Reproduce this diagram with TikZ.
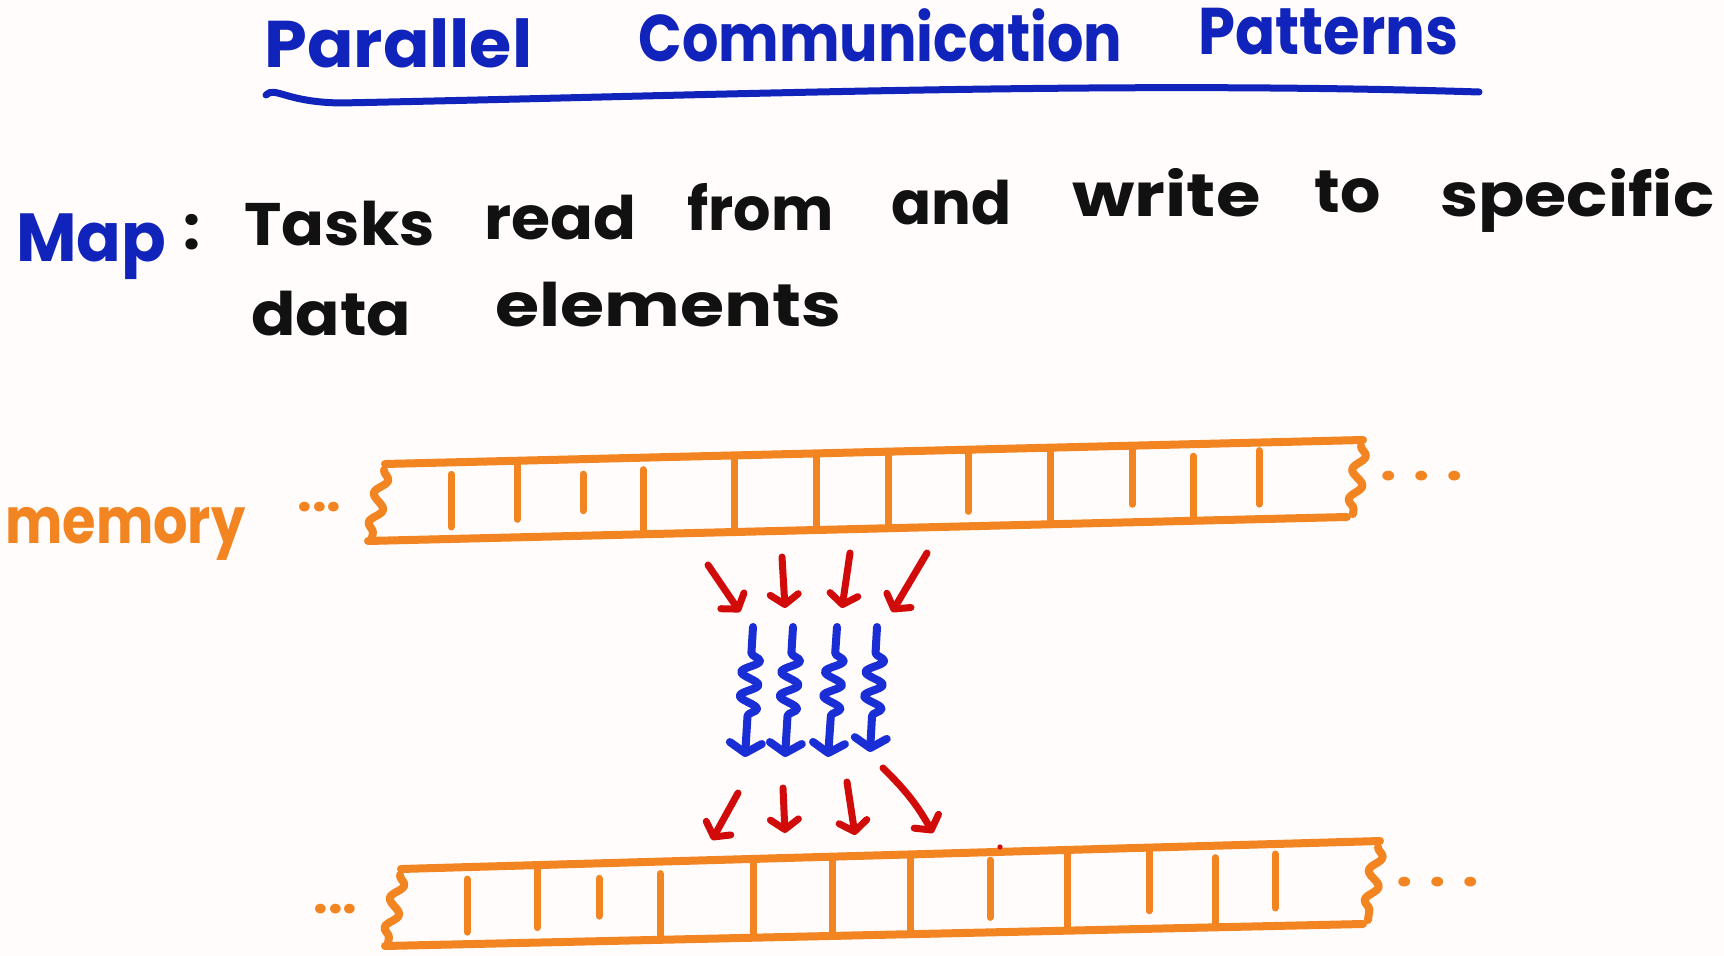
\documentclass[tikz,border=0pt]{standalone}
\usepackage{fontspec}
\setmainfont{Poppins}
\usepackage{graphicx}
\usetikzlibrary{arrows.meta,decorations.pathmorphing,calc}
\definecolor{bgc}{HTML}{FFFCFB}
\definecolor{ttblue}{HTML}{1024BC}
\definecolor{ink}{HTML}{111111}
\definecolor{mem}{HTML}{F28522}
\definecolor{rd}{HTML}{D10A0A}
\definecolor{ab}{HTML}{1A2ED6}
\newcommand\fw[2]{\resizebox{#1}{\height}{#2}}
\begin{document}
\begin{tikzpicture}[x=0.5pt,y=-0.5pt,
  word/.style={inner sep=0pt, anchor=base west, text=ink, font=\bfseries\fontsize{30}{34}\selectfont},
  titleword/.style={word, text=ttblue, font=\bfseries\fontsize{33}{36}\selectfont},
  memword/.style={word, text=mem, font=\bfseries\fontsize{32}{36}\selectfont},
  memline/.style={draw=mem, line width=4pt, line cap=round, line join=round},
  divline/.style={draw=mem, line width=3.5pt, line cap=round},
  squig/.style={memline, decorate, decoration={snake, segment length=15pt, amplitude=3pt}},
  redarrow/.style={draw=rd, line width=3.5pt, line cap=round, -{Straight Barb[length=5pt,width=14pt,round]}},
  bluearrow/.style={draw=ab, line width=4pt, line cap=round, line join=round,
     -{Straight Barb[length=5pt,width=16pt,round]},
     decorate, decoration={snake, segment length=12pt, amplitude=4.5pt, pre length=13pt, post length=17pt}}
]
\fill[bgc] (0,0) rectangle (1724,956);
\useasboundingbox (0,0) rectangle (1724,956);

% Title
\node[titleword] (tParallel) at (264,68) {\fw{134pt}{Parallel}};
\node[titleword] (tCommunication) at (638,62) {\fw{242pt}{Communication}};
\node[titleword] (tPatterns) at (1198,55) {\fw{130pt}{Patterns}};
\draw[draw=ttblue, line width=3.5pt, line cap=round]
  (266,95) .. controls (275,86) and (285,102) .. (340,103)
  .. controls (700,96) and (1100,80) .. (1479,92);

% Definition
\node[titleword, font=\bfseries\fontsize{34}{38}\selectfont] (map) at (16,262) {\fw{75pt}{Map}};
\node[word] (colon) at (183,250) {:};
\node[word] (w1) at (244,246) {\fw{95pt}{Tasks}};
\node[word] (w2) at (484,240) {\fw{76pt}{read}};
\node[word] (w3) at (687,231) {\fw{73pt}{from}};
\node[word] (w4) at (891,225) {\fw{60pt}{and}};
\node[word] (w5) at (1072,217) {\fw{94pt}{write}};
\node[word] (w6) at (1314,213) {\fw{33pt}{to}};
\node[word] (w7) at (1440,217) {\fw{137pt}{specific}};
\node[word] (w8) at (251,336) {\fw{80pt}{data}};
\node[word] (w9) at (495,327) {\fw{173pt}{elements}};

% memory label
\node[memword] (memory) at (5,544) {\fw{120pt}{memory}};

% Top array
\draw[memline] (385,464) -- (1363,440);
\draw[memline] (368,541) -- (1347,517);
\draw[squig] (384,470) -- (372,538);
\draw[squig] (1361,446) -- (1353,514);
\foreach \x/\a/\b in {451/12/12, 517/2/18, 583/15/25, 643/12/0, 734/0/0, 816/2/5, 888/0/0, 968/2/15, 1050/0/0, 1132/2/18, 1193/12/0, 1259/8/15}
  \draw[divline] (\x,{464-0.0245*(\x-385)+\a}) -- (\x,{541-0.0245*(\x-368)-\b});
\node[memword, font=\bfseries\fontsize{26}{30}\selectfont] (ldots1) at (297,512) {\fw{22pt}{...}};
\node[memword, font=\bfseries\fontsize{26}{30}\selectfont] (rdots1) at (1380,481) {\fw{41pt}{. . .}};

% Bottom array
\draw[memline] (401,869) -- (1380,841);
\draw[memline] (385,946) -- (1363,924);
\draw[squig] (400,875) -- (388,943);
\draw[squig] (1378,847) -- (1368,920);
\foreach \x/\a/\b in {467/12/12, 537/2/15, 599/15/25, 660/12/0, 753/0/0, 832/0/2, 910/0/0, 990/8/15, 1067/0/0, 1149/2/18, 1215/12/0, 1275/10/18}
  \draw[divline] (\x,{869-0.0286*(\x-401)+\a}) -- (\x,{946-0.0225*(\x-385)-\b});
\node[memword, font=\bfseries\fontsize{26}{30}\selectfont] (ldots2) at (313,913) {\fw{22pt}{...}};
\node[memword, font=\bfseries\fontsize{26}{30}\selectfont] (rdots2) at (1396,886) {\fw{41pt}{. . .}};
\fill[rd] (1000,847) circle (1.3pt);

% Arrow end points
\coordinate (r1s) at (708,565); \coordinate (r1e) at (740,612);
\coordinate (r2s) at (782,557); \coordinate (r2e) at (785,608);
\coordinate (r3s) at (850,553); \coordinate (r3e) at (842,608);
\coordinate (r4s) at (927,553); \coordinate (r4e) at (892,612);
\coordinate (b1s) at (753,627); \coordinate (b1e) at (745,757);
\coordinate (b2s) at (793,627); \coordinate (b2e) at (785,757);
\coordinate (b3s) at (837,627); \coordinate (b3e) at (828,757);
\coordinate (b4s) at (877,627); \coordinate (b4e) at (870,752);
\coordinate (s1s) at (738,793); \coordinate (s1e) at (712,840);
\coordinate (s2s) at (783,788); \coordinate (s2e) at (785,833);
\coordinate (s3s) at (847,782); \coordinate (s3e) at (855,835);
\coordinate (s4s) at (883,768); \coordinate (s4e) at (933,833);

\draw[redarrow] (r1s) -- (r1e);
\draw[redarrow] (r2s) -- (r2e);
\draw[redarrow] (r3s) -- (r3e);
\draw[redarrow] (r4s) -- (r4e);
\draw[bluearrow] (b1s) -- (b1e);
\draw[bluearrow] (b2s) -- (b2e);
\draw[bluearrow] (b3s) -- (b3e);
\draw[bluearrow] (b4s) -- (b4e);
\draw[redarrow] (s1s) -- (s1e);
\draw[redarrow] (s2s) -- (s2e);
\draw[redarrow] (s3s) -- (s3e);
\draw[redarrow] (s4s) to[bend left=8] (s4e);
\end{tikzpicture}
\end{document}
